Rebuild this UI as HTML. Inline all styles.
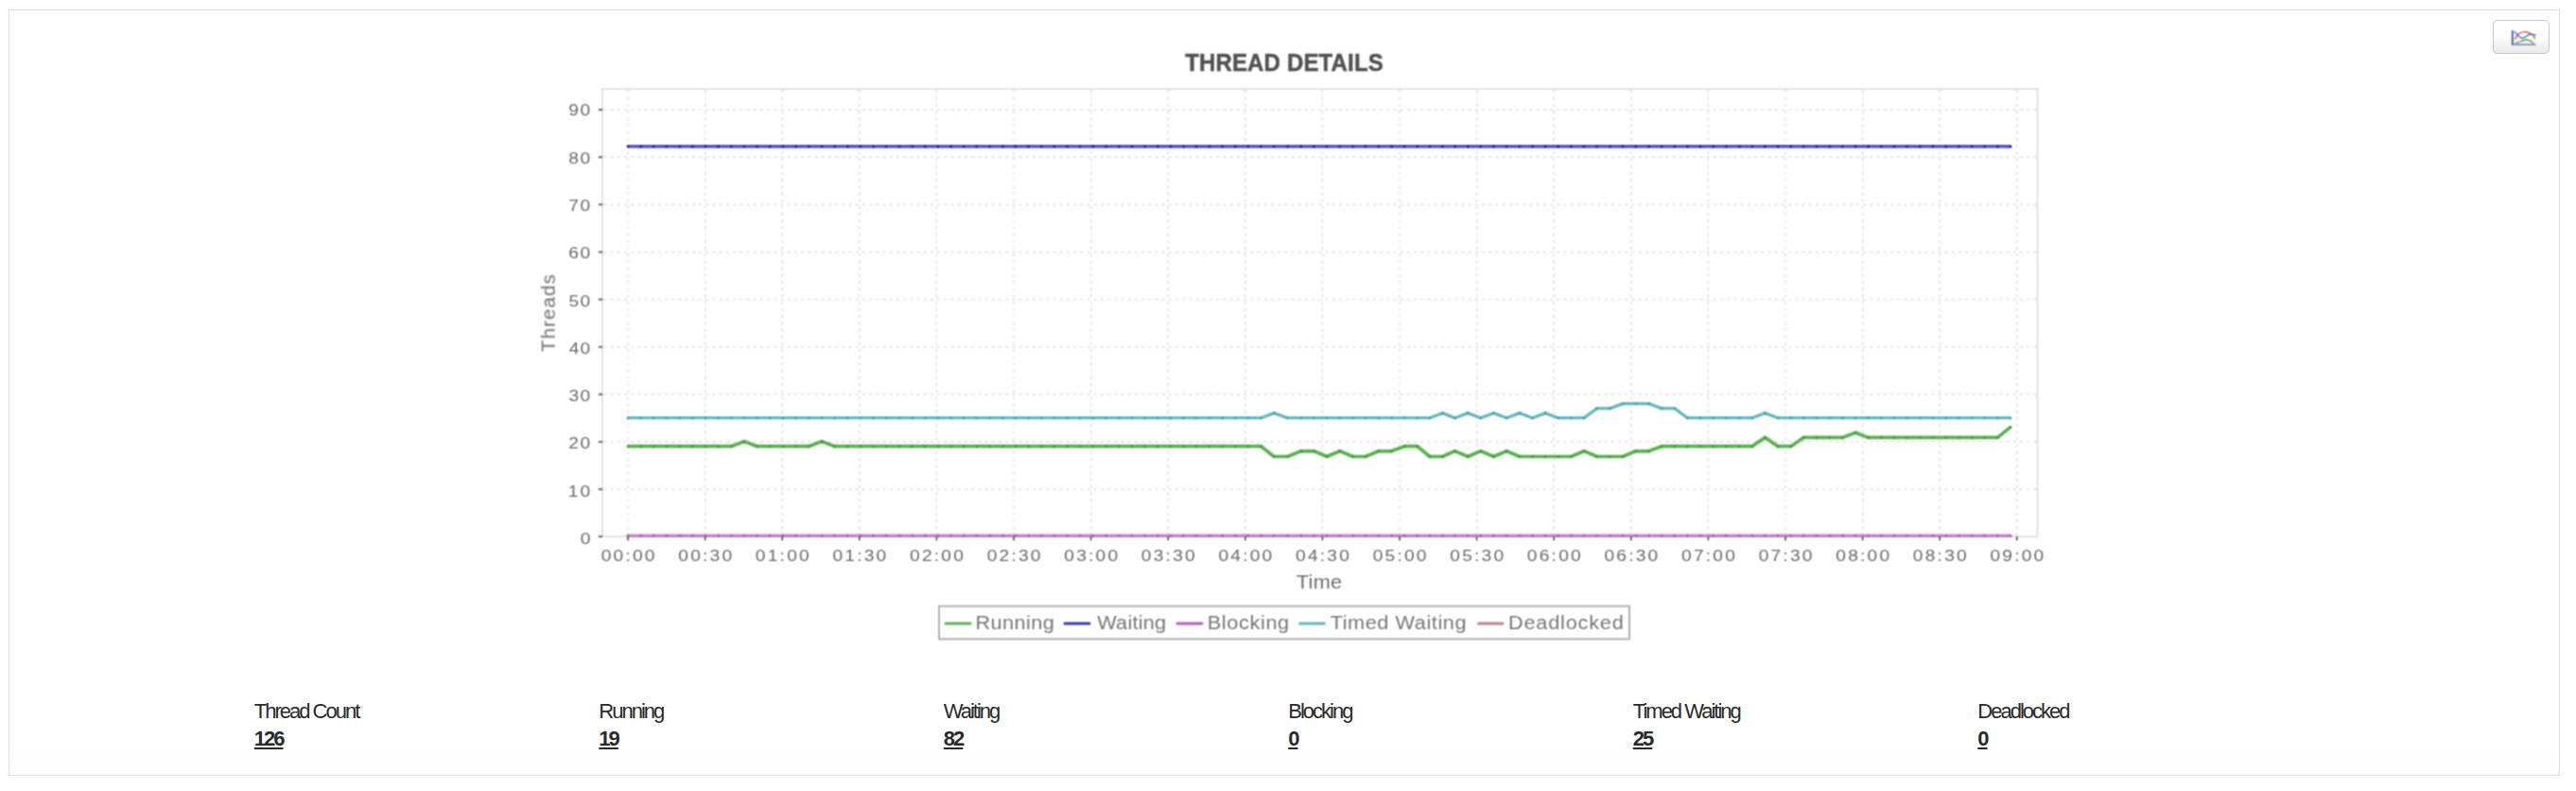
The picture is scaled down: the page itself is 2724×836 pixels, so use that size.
<!DOCTYPE html>
<html><head><meta charset="utf-8"><title>Thread Details</title>
<style>
html,body{margin:0;padding:0;background:#fff;}
body{width:2724px;height:836px;position:relative;overflow:hidden;font-family:"Liberation Sans",sans-serif;}
.box{position:absolute;left:9px;top:10px;width:2696px;height:808px;border:1px solid #e2e2e2;background:linear-gradient(to bottom,#fff 0,#fff 782px,#fcfcfc 808px);}
.chart{position:absolute;left:0;top:0;}
.chart text{font-family:"Liberation Sans",sans-serif;}
.tk{font-size:17px;fill:#676767;}
.lg{font-size:20.5px;fill:#747474;}
.ax{font-size:20.5px;fill:#6a6a6a;letter-spacing:1.6px;}
.ttl{font-size:24px;font-weight:bold;fill:#525252;stroke:#525252;stroke-width:0.45px;letter-spacing:0.16px;}
.btn{position:absolute;left:2636px;top:21px;width:58px;height:34px;border:1px solid #c6c6c6;border-radius:5px;background:linear-gradient(to bottom,#fff 0,#fff 45%,#e9e9e9 100%);}
.btn svg{position:absolute;left:17px;top:9px;}
.st{position:absolute;top:738.3px;color:#2a2a2a;font-size:22px;letter-spacing:-2px;line-height:28px;padding-left:10px;white-space:nowrap;}
.sv{font-weight:bold;text-decoration:underline;text-decoration-thickness:2px;text-underline-offset:2px;margin-top:1px;}
</style></head><body>
<div class="box"></div>
<svg class="chart" width="2724" height="836" viewBox="0 0 2724 836">
<defs><filter id="b" filterUnits="userSpaceOnUse" x="520" y="30" width="1700" height="670" color-interpolation-filters="sRGB"><feConvolveMatrix order="3" kernelMatrix="1 2 1 2 4 2 1 2 1" divisor="16" edgeMode="none" preserveAlpha="false"/></filter></defs>
<g filter="url(#b)">
<rect x="637" y="94" width="1517.5" height="473" fill="none" stroke="#e2e2e2" stroke-width="2"/>
<g stroke="#e9e9e9" stroke-width="2" stroke-dasharray="3.6 3.6" fill="none"><line x1="664.0" y1="95" x2="664.0" y2="567"/><line x1="745.6" y1="95" x2="745.6" y2="567"/><line x1="827.2" y1="95" x2="827.2" y2="567"/><line x1="908.8" y1="95" x2="908.8" y2="567"/><line x1="990.4" y1="95" x2="990.4" y2="567"/><line x1="1072.0" y1="95" x2="1072.0" y2="567"/><line x1="1153.6" y1="95" x2="1153.6" y2="567"/><line x1="1235.2" y1="95" x2="1235.2" y2="567"/><line x1="1316.8" y1="95" x2="1316.8" y2="567"/><line x1="1398.4" y1="95" x2="1398.4" y2="567"/><line x1="1480.0" y1="95" x2="1480.0" y2="567"/><line x1="1561.6" y1="95" x2="1561.6" y2="567"/><line x1="1643.2" y1="95" x2="1643.2" y2="567"/><line x1="1724.8" y1="95" x2="1724.8" y2="567"/><line x1="1806.4" y1="95" x2="1806.4" y2="567"/><line x1="1888.0" y1="95" x2="1888.0" y2="567"/><line x1="1969.6" y1="95" x2="1969.6" y2="567"/><line x1="2051.2" y1="95" x2="2051.2" y2="567"/><line x1="2132.8" y1="95" x2="2132.8" y2="567"/><line x1="638" y1="517.1" x2="2154" y2="517.1"/><line x1="638" y1="467.0" x2="2154" y2="467.0"/><line x1="638" y1="416.8" x2="2154" y2="416.8"/><line x1="638" y1="366.7" x2="2154" y2="366.7"/><line x1="638" y1="316.5" x2="2154" y2="316.5"/><line x1="638" y1="266.4" x2="2154" y2="266.4"/><line x1="638" y1="216.2" x2="2154" y2="216.2"/><line x1="638" y1="166.1" x2="2154" y2="166.1"/><line x1="638" y1="115.9" x2="2154" y2="115.9"/></g>
<polyline points="664.0,566.2 677.7,566.2 691.3,566.2 705.0,566.2 718.7,566.2 732.3,566.2 746.0,566.2 759.6,566.2 773.3,566.2 787.0,566.2 800.6,566.2 814.3,566.2 828.0,566.2 841.6,566.2 855.3,566.2 869.0,566.2 882.6,566.2 896.3,566.2 910.0,566.2 923.6,566.2 937.3,566.2 950.9,566.2 964.6,566.2 978.3,566.2 991.9,566.2 1005.6,566.2 1019.3,566.2 1032.9,566.2 1046.6,566.2 1060.3,566.2 1073.9,566.2 1087.6,566.2 1101.2,566.2 1114.9,566.2 1128.6,566.2 1142.2,566.2 1155.9,566.2 1169.6,566.2 1183.2,566.2 1196.9,566.2 1210.6,566.2 1224.2,566.2 1237.9,566.2 1251.6,566.2 1265.2,566.2 1278.9,566.2 1292.5,566.2 1306.2,566.2 1319.9,566.2 1333.5,566.2 1347.2,566.2 1361.6,566.2 1375.8,566.2 1389.5,566.2 1403.2,566.2 1416.8,566.2 1430.5,566.2 1444.1,566.2 1457.8,566.2 1471.5,566.2 1485.1,566.2 1498.8,566.2 1511.9,566.2 1525.5,566.2 1538.5,566.2 1552.2,566.2 1565.8,566.2 1579.5,566.2 1593.2,566.2 1606.8,566.2 1620.5,566.2 1634.1,566.2 1647.8,566.2 1661.5,566.2 1675.1,566.2 1688.8,566.2 1702.5,566.2 1716.1,566.2 1729.8,566.2 1743.5,566.2 1757.1,566.2 1770.8,566.2 1784.4,566.2 1798.1,566.2 1811.8,566.2 1825.4,566.2 1839.1,566.2 1852.8,566.2 1866.4,566.2 1880.1,566.2 1893.8,566.2 1907.4,566.2 1921.1,566.2 1934.8,566.2 1948.4,566.2 1962.1,566.2 1975.7,566.2 1989.4,566.2 2003.1,566.2 2016.7,566.2 2030.4,566.2 2044.1,566.2 2057.7,566.2 2071.4,566.2 2085.1,566.2 2098.7,566.2 2112.4,566.2 2126.0,566.2" fill="none" stroke="#c584c8" stroke-width="3.6" stroke-linejoin="round"/><g fill="#ad62b2"><circle cx="664.0" cy="566.2" r="1.5"/><circle cx="677.7" cy="566.2" r="1.5"/><circle cx="691.3" cy="566.2" r="1.5"/><circle cx="705.0" cy="566.2" r="1.5"/><circle cx="718.7" cy="566.2" r="1.5"/><circle cx="732.3" cy="566.2" r="1.5"/><circle cx="746.0" cy="566.2" r="1.5"/><circle cx="759.6" cy="566.2" r="1.5"/><circle cx="773.3" cy="566.2" r="1.5"/><circle cx="787.0" cy="566.2" r="1.5"/><circle cx="800.6" cy="566.2" r="1.5"/><circle cx="814.3" cy="566.2" r="1.5"/><circle cx="828.0" cy="566.2" r="1.5"/><circle cx="841.6" cy="566.2" r="1.5"/><circle cx="855.3" cy="566.2" r="1.5"/><circle cx="869.0" cy="566.2" r="1.5"/><circle cx="882.6" cy="566.2" r="1.5"/><circle cx="896.3" cy="566.2" r="1.5"/><circle cx="910.0" cy="566.2" r="1.5"/><circle cx="923.6" cy="566.2" r="1.5"/><circle cx="937.3" cy="566.2" r="1.5"/><circle cx="950.9" cy="566.2" r="1.5"/><circle cx="964.6" cy="566.2" r="1.5"/><circle cx="978.3" cy="566.2" r="1.5"/><circle cx="991.9" cy="566.2" r="1.5"/><circle cx="1005.6" cy="566.2" r="1.5"/><circle cx="1019.3" cy="566.2" r="1.5"/><circle cx="1032.9" cy="566.2" r="1.5"/><circle cx="1046.6" cy="566.2" r="1.5"/><circle cx="1060.3" cy="566.2" r="1.5"/><circle cx="1073.9" cy="566.2" r="1.5"/><circle cx="1087.6" cy="566.2" r="1.5"/><circle cx="1101.2" cy="566.2" r="1.5"/><circle cx="1114.9" cy="566.2" r="1.5"/><circle cx="1128.6" cy="566.2" r="1.5"/><circle cx="1142.2" cy="566.2" r="1.5"/><circle cx="1155.9" cy="566.2" r="1.5"/><circle cx="1169.6" cy="566.2" r="1.5"/><circle cx="1183.2" cy="566.2" r="1.5"/><circle cx="1196.9" cy="566.2" r="1.5"/><circle cx="1210.6" cy="566.2" r="1.5"/><circle cx="1224.2" cy="566.2" r="1.5"/><circle cx="1237.9" cy="566.2" r="1.5"/><circle cx="1251.6" cy="566.2" r="1.5"/><circle cx="1265.2" cy="566.2" r="1.5"/><circle cx="1278.9" cy="566.2" r="1.5"/><circle cx="1292.5" cy="566.2" r="1.5"/><circle cx="1306.2" cy="566.2" r="1.5"/><circle cx="1319.9" cy="566.2" r="1.5"/><circle cx="1333.5" cy="566.2" r="1.5"/><circle cx="1347.2" cy="566.2" r="1.5"/><circle cx="1361.6" cy="566.2" r="1.5"/><circle cx="1375.8" cy="566.2" r="1.5"/><circle cx="1389.5" cy="566.2" r="1.5"/><circle cx="1403.2" cy="566.2" r="1.5"/><circle cx="1416.8" cy="566.2" r="1.5"/><circle cx="1430.5" cy="566.2" r="1.5"/><circle cx="1444.1" cy="566.2" r="1.5"/><circle cx="1457.8" cy="566.2" r="1.5"/><circle cx="1471.5" cy="566.2" r="1.5"/><circle cx="1485.1" cy="566.2" r="1.5"/><circle cx="1498.8" cy="566.2" r="1.5"/><circle cx="1511.9" cy="566.2" r="1.5"/><circle cx="1525.5" cy="566.2" r="1.5"/><circle cx="1538.5" cy="566.2" r="1.5"/><circle cx="1552.2" cy="566.2" r="1.5"/><circle cx="1565.8" cy="566.2" r="1.5"/><circle cx="1579.5" cy="566.2" r="1.5"/><circle cx="1593.2" cy="566.2" r="1.5"/><circle cx="1606.8" cy="566.2" r="1.5"/><circle cx="1620.5" cy="566.2" r="1.5"/><circle cx="1634.1" cy="566.2" r="1.5"/><circle cx="1647.8" cy="566.2" r="1.5"/><circle cx="1661.5" cy="566.2" r="1.5"/><circle cx="1675.1" cy="566.2" r="1.5"/><circle cx="1688.8" cy="566.2" r="1.5"/><circle cx="1702.5" cy="566.2" r="1.5"/><circle cx="1716.1" cy="566.2" r="1.5"/><circle cx="1729.8" cy="566.2" r="1.5"/><circle cx="1743.5" cy="566.2" r="1.5"/><circle cx="1757.1" cy="566.2" r="1.5"/><circle cx="1770.8" cy="566.2" r="1.5"/><circle cx="1784.4" cy="566.2" r="1.5"/><circle cx="1798.1" cy="566.2" r="1.5"/><circle cx="1811.8" cy="566.2" r="1.5"/><circle cx="1825.4" cy="566.2" r="1.5"/><circle cx="1839.1" cy="566.2" r="1.5"/><circle cx="1852.8" cy="566.2" r="1.5"/><circle cx="1866.4" cy="566.2" r="1.5"/><circle cx="1880.1" cy="566.2" r="1.5"/><circle cx="1893.8" cy="566.2" r="1.5"/><circle cx="1907.4" cy="566.2" r="1.5"/><circle cx="1921.1" cy="566.2" r="1.5"/><circle cx="1934.8" cy="566.2" r="1.5"/><circle cx="1948.4" cy="566.2" r="1.5"/><circle cx="1962.1" cy="566.2" r="1.5"/><circle cx="1975.7" cy="566.2" r="1.5"/><circle cx="1989.4" cy="566.2" r="1.5"/><circle cx="2003.1" cy="566.2" r="1.5"/><circle cx="2016.7" cy="566.2" r="1.5"/><circle cx="2030.4" cy="566.2" r="1.5"/><circle cx="2044.1" cy="566.2" r="1.5"/><circle cx="2057.7" cy="566.2" r="1.5"/><circle cx="2071.4" cy="566.2" r="1.5"/><circle cx="2085.1" cy="566.2" r="1.5"/><circle cx="2098.7" cy="566.2" r="1.5"/><circle cx="2112.4" cy="566.2" r="1.5"/><circle cx="2126.0" cy="566.2" r="1.5"/></g><polyline points="664.0,471.7 677.7,471.7 691.3,471.7 705.0,471.7 718.7,471.7 732.3,471.7 746.0,471.7 759.6,471.7 773.3,471.7 787.0,466.5 800.6,471.7 814.3,471.7 828.0,471.7 841.6,471.7 855.3,471.7 869.0,466.5 882.6,471.7 896.3,471.7 910.0,471.7 923.6,471.7 937.3,471.7 950.9,471.7 964.6,471.7 978.3,471.7 991.9,471.7 1005.6,471.7 1019.3,471.7 1032.9,471.7 1046.6,471.7 1060.3,471.7 1073.9,471.7 1087.6,471.7 1101.2,471.7 1114.9,471.7 1128.6,471.7 1142.2,471.7 1155.9,471.7 1169.6,471.7 1183.2,471.7 1196.9,471.7 1210.6,471.7 1224.2,471.7 1237.9,471.7 1251.6,471.7 1265.2,471.7 1278.9,471.7 1292.5,471.7 1306.2,471.7 1319.9,471.7 1333.5,471.7 1347.2,482.5 1361.6,482.5 1375.8,476.8 1389.5,476.8 1403.2,482.5 1416.8,476.8 1430.5,482.5 1444.1,482.5 1457.8,476.8 1471.5,476.8 1485.1,471.7 1498.8,471.7 1511.9,482.5 1525.5,482.5 1538.5,476.8 1552.2,482.5 1565.8,476.8 1579.5,482.5 1593.2,476.8 1606.8,482.5 1620.5,482.5 1634.1,482.5 1647.8,482.5 1661.5,482.5 1675.1,476.8 1688.8,482.5 1702.5,482.5 1716.1,482.5 1729.8,476.8 1743.5,476.8 1757.1,471.7 1770.8,471.7 1784.4,471.7 1798.1,471.7 1811.8,471.7 1825.4,471.7 1839.1,471.7 1852.8,471.7 1866.4,462.4 1880.1,471.7 1893.8,471.7 1907.4,462.4 1921.1,462.4 1934.8,462.4 1948.4,462.4 1962.1,457.2 1975.7,462.4 1989.4,462.4 2003.1,462.4 2016.7,462.4 2030.4,462.4 2044.1,462.4 2057.7,462.4 2071.4,462.4 2085.1,462.4 2098.7,462.4 2112.4,462.4 2126.0,451.4" fill="none" stroke="#5ab450" stroke-width="3.7" stroke-linejoin="round"/><g fill="#479c3c"><circle cx="664.0" cy="471.7" r="1.5"/><circle cx="677.7" cy="471.7" r="1.5"/><circle cx="691.3" cy="471.7" r="1.5"/><circle cx="705.0" cy="471.7" r="1.5"/><circle cx="718.7" cy="471.7" r="1.5"/><circle cx="732.3" cy="471.7" r="1.5"/><circle cx="746.0" cy="471.7" r="1.5"/><circle cx="759.6" cy="471.7" r="1.5"/><circle cx="773.3" cy="471.7" r="1.5"/><circle cx="787.0" cy="466.5" r="1.5"/><circle cx="800.6" cy="471.7" r="1.5"/><circle cx="814.3" cy="471.7" r="1.5"/><circle cx="828.0" cy="471.7" r="1.5"/><circle cx="841.6" cy="471.7" r="1.5"/><circle cx="855.3" cy="471.7" r="1.5"/><circle cx="869.0" cy="466.5" r="1.5"/><circle cx="882.6" cy="471.7" r="1.5"/><circle cx="896.3" cy="471.7" r="1.5"/><circle cx="910.0" cy="471.7" r="1.5"/><circle cx="923.6" cy="471.7" r="1.5"/><circle cx="937.3" cy="471.7" r="1.5"/><circle cx="950.9" cy="471.7" r="1.5"/><circle cx="964.6" cy="471.7" r="1.5"/><circle cx="978.3" cy="471.7" r="1.5"/><circle cx="991.9" cy="471.7" r="1.5"/><circle cx="1005.6" cy="471.7" r="1.5"/><circle cx="1019.3" cy="471.7" r="1.5"/><circle cx="1032.9" cy="471.7" r="1.5"/><circle cx="1046.6" cy="471.7" r="1.5"/><circle cx="1060.3" cy="471.7" r="1.5"/><circle cx="1073.9" cy="471.7" r="1.5"/><circle cx="1087.6" cy="471.7" r="1.5"/><circle cx="1101.2" cy="471.7" r="1.5"/><circle cx="1114.9" cy="471.7" r="1.5"/><circle cx="1128.6" cy="471.7" r="1.5"/><circle cx="1142.2" cy="471.7" r="1.5"/><circle cx="1155.9" cy="471.7" r="1.5"/><circle cx="1169.6" cy="471.7" r="1.5"/><circle cx="1183.2" cy="471.7" r="1.5"/><circle cx="1196.9" cy="471.7" r="1.5"/><circle cx="1210.6" cy="471.7" r="1.5"/><circle cx="1224.2" cy="471.7" r="1.5"/><circle cx="1237.9" cy="471.7" r="1.5"/><circle cx="1251.6" cy="471.7" r="1.5"/><circle cx="1265.2" cy="471.7" r="1.5"/><circle cx="1278.9" cy="471.7" r="1.5"/><circle cx="1292.5" cy="471.7" r="1.5"/><circle cx="1306.2" cy="471.7" r="1.5"/><circle cx="1319.9" cy="471.7" r="1.5"/><circle cx="1333.5" cy="471.7" r="1.5"/><circle cx="1347.2" cy="482.5" r="1.5"/><circle cx="1361.6" cy="482.5" r="1.5"/><circle cx="1375.8" cy="476.8" r="1.5"/><circle cx="1389.5" cy="476.8" r="1.5"/><circle cx="1403.2" cy="482.5" r="1.5"/><circle cx="1416.8" cy="476.8" r="1.5"/><circle cx="1430.5" cy="482.5" r="1.5"/><circle cx="1444.1" cy="482.5" r="1.5"/><circle cx="1457.8" cy="476.8" r="1.5"/><circle cx="1471.5" cy="476.8" r="1.5"/><circle cx="1485.1" cy="471.7" r="1.5"/><circle cx="1498.8" cy="471.7" r="1.5"/><circle cx="1511.9" cy="482.5" r="1.5"/><circle cx="1525.5" cy="482.5" r="1.5"/><circle cx="1538.5" cy="476.8" r="1.5"/><circle cx="1552.2" cy="482.5" r="1.5"/><circle cx="1565.8" cy="476.8" r="1.5"/><circle cx="1579.5" cy="482.5" r="1.5"/><circle cx="1593.2" cy="476.8" r="1.5"/><circle cx="1606.8" cy="482.5" r="1.5"/><circle cx="1620.5" cy="482.5" r="1.5"/><circle cx="1634.1" cy="482.5" r="1.5"/><circle cx="1647.8" cy="482.5" r="1.5"/><circle cx="1661.5" cy="482.5" r="1.5"/><circle cx="1675.1" cy="476.8" r="1.5"/><circle cx="1688.8" cy="482.5" r="1.5"/><circle cx="1702.5" cy="482.5" r="1.5"/><circle cx="1716.1" cy="482.5" r="1.5"/><circle cx="1729.8" cy="476.8" r="1.5"/><circle cx="1743.5" cy="476.8" r="1.5"/><circle cx="1757.1" cy="471.7" r="1.5"/><circle cx="1770.8" cy="471.7" r="1.5"/><circle cx="1784.4" cy="471.7" r="1.5"/><circle cx="1798.1" cy="471.7" r="1.5"/><circle cx="1811.8" cy="471.7" r="1.5"/><circle cx="1825.4" cy="471.7" r="1.5"/><circle cx="1839.1" cy="471.7" r="1.5"/><circle cx="1852.8" cy="471.7" r="1.5"/><circle cx="1866.4" cy="462.4" r="1.5"/><circle cx="1880.1" cy="471.7" r="1.5"/><circle cx="1893.8" cy="471.7" r="1.5"/><circle cx="1907.4" cy="462.4" r="1.5"/><circle cx="1921.1" cy="462.4" r="1.5"/><circle cx="1934.8" cy="462.4" r="1.5"/><circle cx="1948.4" cy="462.4" r="1.5"/><circle cx="1962.1" cy="457.2" r="1.5"/><circle cx="1975.7" cy="462.4" r="1.5"/><circle cx="1989.4" cy="462.4" r="1.5"/><circle cx="2003.1" cy="462.4" r="1.5"/><circle cx="2016.7" cy="462.4" r="1.5"/><circle cx="2030.4" cy="462.4" r="1.5"/><circle cx="2044.1" cy="462.4" r="1.5"/><circle cx="2057.7" cy="462.4" r="1.5"/><circle cx="2071.4" cy="462.4" r="1.5"/><circle cx="2085.1" cy="462.4" r="1.5"/><circle cx="2098.7" cy="462.4" r="1.5"/><circle cx="2112.4" cy="462.4" r="1.5"/><circle cx="2126.0" cy="451.4" r="1.5"/></g><polyline points="664.0,441.7 677.7,441.7 691.3,441.7 705.0,441.7 718.7,441.7 732.3,441.7 746.0,441.7 759.6,441.7 773.3,441.7 787.0,441.7 800.6,441.7 814.3,441.7 828.0,441.7 841.6,441.7 855.3,441.7 869.0,441.7 882.6,441.7 896.3,441.7 910.0,441.7 923.6,441.7 937.3,441.7 950.9,441.7 964.6,441.7 978.3,441.7 991.9,441.7 1005.6,441.7 1019.3,441.7 1032.9,441.7 1046.6,441.7 1060.3,441.7 1073.9,441.7 1087.6,441.7 1101.2,441.7 1114.9,441.7 1128.6,441.7 1142.2,441.7 1155.9,441.7 1169.6,441.7 1183.2,441.7 1196.9,441.7 1210.6,441.7 1224.2,441.7 1237.9,441.7 1251.6,441.7 1265.2,441.7 1278.9,441.7 1292.5,441.7 1306.2,441.7 1319.9,441.7 1333.5,441.7 1347.2,436.6 1361.6,441.7 1375.8,441.7 1389.5,441.7 1403.2,441.7 1416.8,441.7 1430.5,441.7 1444.1,441.7 1457.8,441.7 1471.5,441.7 1485.1,441.7 1498.8,441.7 1511.9,441.7 1525.5,436.6 1538.5,441.7 1552.2,436.6 1565.8,441.7 1579.5,436.6 1593.2,441.7 1606.8,436.6 1620.5,441.7 1634.1,436.6 1647.8,441.7 1661.5,441.7 1675.1,441.7 1688.8,431.6 1702.5,431.6 1716.1,426.6 1729.8,426.6 1743.5,426.6 1757.1,431.6 1770.8,431.6 1784.4,441.7 1798.1,441.7 1811.8,441.7 1825.4,441.7 1839.1,441.7 1852.8,441.7 1866.4,436.6 1880.1,441.7 1893.8,441.7 1907.4,441.7 1921.1,441.7 1934.8,441.7 1948.4,441.7 1962.1,441.7 1975.7,441.7 1989.4,441.7 2003.1,441.7 2016.7,441.7 2030.4,441.7 2044.1,441.7 2057.7,441.7 2071.4,441.7 2085.1,441.7 2098.7,441.7 2112.4,441.7 2126.0,441.7" fill="none" stroke="#68b8c0" stroke-width="3.3" stroke-linejoin="round"/><g fill="#4fa0a8"><circle cx="664.0" cy="441.7" r="1.5"/><circle cx="677.7" cy="441.7" r="1.5"/><circle cx="691.3" cy="441.7" r="1.5"/><circle cx="705.0" cy="441.7" r="1.5"/><circle cx="718.7" cy="441.7" r="1.5"/><circle cx="732.3" cy="441.7" r="1.5"/><circle cx="746.0" cy="441.7" r="1.5"/><circle cx="759.6" cy="441.7" r="1.5"/><circle cx="773.3" cy="441.7" r="1.5"/><circle cx="787.0" cy="441.7" r="1.5"/><circle cx="800.6" cy="441.7" r="1.5"/><circle cx="814.3" cy="441.7" r="1.5"/><circle cx="828.0" cy="441.7" r="1.5"/><circle cx="841.6" cy="441.7" r="1.5"/><circle cx="855.3" cy="441.7" r="1.5"/><circle cx="869.0" cy="441.7" r="1.5"/><circle cx="882.6" cy="441.7" r="1.5"/><circle cx="896.3" cy="441.7" r="1.5"/><circle cx="910.0" cy="441.7" r="1.5"/><circle cx="923.6" cy="441.7" r="1.5"/><circle cx="937.3" cy="441.7" r="1.5"/><circle cx="950.9" cy="441.7" r="1.5"/><circle cx="964.6" cy="441.7" r="1.5"/><circle cx="978.3" cy="441.7" r="1.5"/><circle cx="991.9" cy="441.7" r="1.5"/><circle cx="1005.6" cy="441.7" r="1.5"/><circle cx="1019.3" cy="441.7" r="1.5"/><circle cx="1032.9" cy="441.7" r="1.5"/><circle cx="1046.6" cy="441.7" r="1.5"/><circle cx="1060.3" cy="441.7" r="1.5"/><circle cx="1073.9" cy="441.7" r="1.5"/><circle cx="1087.6" cy="441.7" r="1.5"/><circle cx="1101.2" cy="441.7" r="1.5"/><circle cx="1114.9" cy="441.7" r="1.5"/><circle cx="1128.6" cy="441.7" r="1.5"/><circle cx="1142.2" cy="441.7" r="1.5"/><circle cx="1155.9" cy="441.7" r="1.5"/><circle cx="1169.6" cy="441.7" r="1.5"/><circle cx="1183.2" cy="441.7" r="1.5"/><circle cx="1196.9" cy="441.7" r="1.5"/><circle cx="1210.6" cy="441.7" r="1.5"/><circle cx="1224.2" cy="441.7" r="1.5"/><circle cx="1237.9" cy="441.7" r="1.5"/><circle cx="1251.6" cy="441.7" r="1.5"/><circle cx="1265.2" cy="441.7" r="1.5"/><circle cx="1278.9" cy="441.7" r="1.5"/><circle cx="1292.5" cy="441.7" r="1.5"/><circle cx="1306.2" cy="441.7" r="1.5"/><circle cx="1319.9" cy="441.7" r="1.5"/><circle cx="1333.5" cy="441.7" r="1.5"/><circle cx="1347.2" cy="436.6" r="1.5"/><circle cx="1361.6" cy="441.7" r="1.5"/><circle cx="1375.8" cy="441.7" r="1.5"/><circle cx="1389.5" cy="441.7" r="1.5"/><circle cx="1403.2" cy="441.7" r="1.5"/><circle cx="1416.8" cy="441.7" r="1.5"/><circle cx="1430.5" cy="441.7" r="1.5"/><circle cx="1444.1" cy="441.7" r="1.5"/><circle cx="1457.8" cy="441.7" r="1.5"/><circle cx="1471.5" cy="441.7" r="1.5"/><circle cx="1485.1" cy="441.7" r="1.5"/><circle cx="1498.8" cy="441.7" r="1.5"/><circle cx="1511.9" cy="441.7" r="1.5"/><circle cx="1525.5" cy="436.6" r="1.5"/><circle cx="1538.5" cy="441.7" r="1.5"/><circle cx="1552.2" cy="436.6" r="1.5"/><circle cx="1565.8" cy="441.7" r="1.5"/><circle cx="1579.5" cy="436.6" r="1.5"/><circle cx="1593.2" cy="441.7" r="1.5"/><circle cx="1606.8" cy="436.6" r="1.5"/><circle cx="1620.5" cy="441.7" r="1.5"/><circle cx="1634.1" cy="436.6" r="1.5"/><circle cx="1647.8" cy="441.7" r="1.5"/><circle cx="1661.5" cy="441.7" r="1.5"/><circle cx="1675.1" cy="441.7" r="1.5"/><circle cx="1688.8" cy="431.6" r="1.5"/><circle cx="1702.5" cy="431.6" r="1.5"/><circle cx="1716.1" cy="426.6" r="1.5"/><circle cx="1729.8" cy="426.6" r="1.5"/><circle cx="1743.5" cy="426.6" r="1.5"/><circle cx="1757.1" cy="431.6" r="1.5"/><circle cx="1770.8" cy="431.6" r="1.5"/><circle cx="1784.4" cy="441.7" r="1.5"/><circle cx="1798.1" cy="441.7" r="1.5"/><circle cx="1811.8" cy="441.7" r="1.5"/><circle cx="1825.4" cy="441.7" r="1.5"/><circle cx="1839.1" cy="441.7" r="1.5"/><circle cx="1852.8" cy="441.7" r="1.5"/><circle cx="1866.4" cy="436.6" r="1.5"/><circle cx="1880.1" cy="441.7" r="1.5"/><circle cx="1893.8" cy="441.7" r="1.5"/><circle cx="1907.4" cy="441.7" r="1.5"/><circle cx="1921.1" cy="441.7" r="1.5"/><circle cx="1934.8" cy="441.7" r="1.5"/><circle cx="1948.4" cy="441.7" r="1.5"/><circle cx="1962.1" cy="441.7" r="1.5"/><circle cx="1975.7" cy="441.7" r="1.5"/><circle cx="1989.4" cy="441.7" r="1.5"/><circle cx="2003.1" cy="441.7" r="1.5"/><circle cx="2016.7" cy="441.7" r="1.5"/><circle cx="2030.4" cy="441.7" r="1.5"/><circle cx="2044.1" cy="441.7" r="1.5"/><circle cx="2057.7" cy="441.7" r="1.5"/><circle cx="2071.4" cy="441.7" r="1.5"/><circle cx="2085.1" cy="441.7" r="1.5"/><circle cx="2098.7" cy="441.7" r="1.5"/><circle cx="2112.4" cy="441.7" r="1.5"/><circle cx="2126.0" cy="441.7" r="1.5"/></g><polyline points="664.0,154.8 677.7,154.8 691.3,154.8 705.0,154.8 718.7,154.8 732.3,154.8 746.0,154.8 759.6,154.8 773.3,154.8 787.0,154.8 800.6,154.8 814.3,154.8 828.0,154.8 841.6,154.8 855.3,154.8 869.0,154.8 882.6,154.8 896.3,154.8 910.0,154.8 923.6,154.8 937.3,154.8 950.9,154.8 964.6,154.8 978.3,154.8 991.9,154.8 1005.6,154.8 1019.3,154.8 1032.9,154.8 1046.6,154.8 1060.3,154.8 1073.9,154.8 1087.6,154.8 1101.2,154.8 1114.9,154.8 1128.6,154.8 1142.2,154.8 1155.9,154.8 1169.6,154.8 1183.2,154.8 1196.9,154.8 1210.6,154.8 1224.2,154.8 1237.9,154.8 1251.6,154.8 1265.2,154.8 1278.9,154.8 1292.5,154.8 1306.2,154.8 1319.9,154.8 1333.5,154.8 1347.2,154.8 1361.6,154.8 1375.8,154.8 1389.5,154.8 1403.2,154.8 1416.8,154.8 1430.5,154.8 1444.1,154.8 1457.8,154.8 1471.5,154.8 1485.1,154.8 1498.8,154.8 1511.9,154.8 1525.5,154.8 1538.5,154.8 1552.2,154.8 1565.8,154.8 1579.5,154.8 1593.2,154.8 1606.8,154.8 1620.5,154.8 1634.1,154.8 1647.8,154.8 1661.5,154.8 1675.1,154.8 1688.8,154.8 1702.5,154.8 1716.1,154.8 1729.8,154.8 1743.5,154.8 1757.1,154.8 1770.8,154.8 1784.4,154.8 1798.1,154.8 1811.8,154.8 1825.4,154.8 1839.1,154.8 1852.8,154.8 1866.4,154.8 1880.1,154.8 1893.8,154.8 1907.4,154.8 1921.1,154.8 1934.8,154.8 1948.4,154.8 1962.1,154.8 1975.7,154.8 1989.4,154.8 2003.1,154.8 2016.7,154.8 2030.4,154.8 2044.1,154.8 2057.7,154.8 2071.4,154.8 2085.1,154.8 2098.7,154.8 2112.4,154.8 2126.0,154.8" fill="none" stroke="#5858b8" stroke-width="3.4" stroke-linejoin="round"/><g fill="#2626a0"><circle cx="664.0" cy="154.8" r="1.5"/><circle cx="677.7" cy="154.8" r="1.5"/><circle cx="691.3" cy="154.8" r="1.5"/><circle cx="705.0" cy="154.8" r="1.5"/><circle cx="718.7" cy="154.8" r="1.5"/><circle cx="732.3" cy="154.8" r="1.5"/><circle cx="746.0" cy="154.8" r="1.5"/><circle cx="759.6" cy="154.8" r="1.5"/><circle cx="773.3" cy="154.8" r="1.5"/><circle cx="787.0" cy="154.8" r="1.5"/><circle cx="800.6" cy="154.8" r="1.5"/><circle cx="814.3" cy="154.8" r="1.5"/><circle cx="828.0" cy="154.8" r="1.5"/><circle cx="841.6" cy="154.8" r="1.5"/><circle cx="855.3" cy="154.8" r="1.5"/><circle cx="869.0" cy="154.8" r="1.5"/><circle cx="882.6" cy="154.8" r="1.5"/><circle cx="896.3" cy="154.8" r="1.5"/><circle cx="910.0" cy="154.8" r="1.5"/><circle cx="923.6" cy="154.8" r="1.5"/><circle cx="937.3" cy="154.8" r="1.5"/><circle cx="950.9" cy="154.8" r="1.5"/><circle cx="964.6" cy="154.8" r="1.5"/><circle cx="978.3" cy="154.8" r="1.5"/><circle cx="991.9" cy="154.8" r="1.5"/><circle cx="1005.6" cy="154.8" r="1.5"/><circle cx="1019.3" cy="154.8" r="1.5"/><circle cx="1032.9" cy="154.8" r="1.5"/><circle cx="1046.6" cy="154.8" r="1.5"/><circle cx="1060.3" cy="154.8" r="1.5"/><circle cx="1073.9" cy="154.8" r="1.5"/><circle cx="1087.6" cy="154.8" r="1.5"/><circle cx="1101.2" cy="154.8" r="1.5"/><circle cx="1114.9" cy="154.8" r="1.5"/><circle cx="1128.6" cy="154.8" r="1.5"/><circle cx="1142.2" cy="154.8" r="1.5"/><circle cx="1155.9" cy="154.8" r="1.5"/><circle cx="1169.6" cy="154.8" r="1.5"/><circle cx="1183.2" cy="154.8" r="1.5"/><circle cx="1196.9" cy="154.8" r="1.5"/><circle cx="1210.6" cy="154.8" r="1.5"/><circle cx="1224.2" cy="154.8" r="1.5"/><circle cx="1237.9" cy="154.8" r="1.5"/><circle cx="1251.6" cy="154.8" r="1.5"/><circle cx="1265.2" cy="154.8" r="1.5"/><circle cx="1278.9" cy="154.8" r="1.5"/><circle cx="1292.5" cy="154.8" r="1.5"/><circle cx="1306.2" cy="154.8" r="1.5"/><circle cx="1319.9" cy="154.8" r="1.5"/><circle cx="1333.5" cy="154.8" r="1.5"/><circle cx="1347.2" cy="154.8" r="1.5"/><circle cx="1361.6" cy="154.8" r="1.5"/><circle cx="1375.8" cy="154.8" r="1.5"/><circle cx="1389.5" cy="154.8" r="1.5"/><circle cx="1403.2" cy="154.8" r="1.5"/><circle cx="1416.8" cy="154.8" r="1.5"/><circle cx="1430.5" cy="154.8" r="1.5"/><circle cx="1444.1" cy="154.8" r="1.5"/><circle cx="1457.8" cy="154.8" r="1.5"/><circle cx="1471.5" cy="154.8" r="1.5"/><circle cx="1485.1" cy="154.8" r="1.5"/><circle cx="1498.8" cy="154.8" r="1.5"/><circle cx="1511.9" cy="154.8" r="1.5"/><circle cx="1525.5" cy="154.8" r="1.5"/><circle cx="1538.5" cy="154.8" r="1.5"/><circle cx="1552.2" cy="154.8" r="1.5"/><circle cx="1565.8" cy="154.8" r="1.5"/><circle cx="1579.5" cy="154.8" r="1.5"/><circle cx="1593.2" cy="154.8" r="1.5"/><circle cx="1606.8" cy="154.8" r="1.5"/><circle cx="1620.5" cy="154.8" r="1.5"/><circle cx="1634.1" cy="154.8" r="1.5"/><circle cx="1647.8" cy="154.8" r="1.5"/><circle cx="1661.5" cy="154.8" r="1.5"/><circle cx="1675.1" cy="154.8" r="1.5"/><circle cx="1688.8" cy="154.8" r="1.5"/><circle cx="1702.5" cy="154.8" r="1.5"/><circle cx="1716.1" cy="154.8" r="1.5"/><circle cx="1729.8" cy="154.8" r="1.5"/><circle cx="1743.5" cy="154.8" r="1.5"/><circle cx="1757.1" cy="154.8" r="1.5"/><circle cx="1770.8" cy="154.8" r="1.5"/><circle cx="1784.4" cy="154.8" r="1.5"/><circle cx="1798.1" cy="154.8" r="1.5"/><circle cx="1811.8" cy="154.8" r="1.5"/><circle cx="1825.4" cy="154.8" r="1.5"/><circle cx="1839.1" cy="154.8" r="1.5"/><circle cx="1852.8" cy="154.8" r="1.5"/><circle cx="1866.4" cy="154.8" r="1.5"/><circle cx="1880.1" cy="154.8" r="1.5"/><circle cx="1893.8" cy="154.8" r="1.5"/><circle cx="1907.4" cy="154.8" r="1.5"/><circle cx="1921.1" cy="154.8" r="1.5"/><circle cx="1934.8" cy="154.8" r="1.5"/><circle cx="1948.4" cy="154.8" r="1.5"/><circle cx="1962.1" cy="154.8" r="1.5"/><circle cx="1975.7" cy="154.8" r="1.5"/><circle cx="1989.4" cy="154.8" r="1.5"/><circle cx="2003.1" cy="154.8" r="1.5"/><circle cx="2016.7" cy="154.8" r="1.5"/><circle cx="2030.4" cy="154.8" r="1.5"/><circle cx="2044.1" cy="154.8" r="1.5"/><circle cx="2057.7" cy="154.8" r="1.5"/><circle cx="2071.4" cy="154.8" r="1.5"/><circle cx="2085.1" cy="154.8" r="1.5"/><circle cx="2098.7" cy="154.8" r="1.5"/><circle cx="2112.4" cy="154.8" r="1.5"/><circle cx="2126.0" cy="154.8" r="1.5"/></g>
<g stroke="#6a6a6a" stroke-width="2" fill="none"><line x1="664.0" y1="567" x2="664.0" y2="571.2"/><line x1="745.6" y1="567" x2="745.6" y2="571.2"/><line x1="827.2" y1="567" x2="827.2" y2="571.2"/><line x1="908.8" y1="567" x2="908.8" y2="571.2"/><line x1="990.4" y1="567" x2="990.4" y2="571.2"/><line x1="1072.0" y1="567" x2="1072.0" y2="571.2"/><line x1="1153.6" y1="567" x2="1153.6" y2="571.2"/><line x1="1235.2" y1="567" x2="1235.2" y2="571.2"/><line x1="1316.8" y1="567" x2="1316.8" y2="571.2"/><line x1="1398.4" y1="567" x2="1398.4" y2="571.2"/><line x1="1480.0" y1="567" x2="1480.0" y2="571.2"/><line x1="1561.6" y1="567" x2="1561.6" y2="571.2"/><line x1="1643.2" y1="567" x2="1643.2" y2="571.2"/><line x1="1724.8" y1="567" x2="1724.8" y2="571.2"/><line x1="1806.4" y1="567" x2="1806.4" y2="571.2"/><line x1="1888.0" y1="567" x2="1888.0" y2="571.2"/><line x1="1969.6" y1="567" x2="1969.6" y2="571.2"/><line x1="2051.2" y1="567" x2="2051.2" y2="571.2"/><line x1="2132.8" y1="567" x2="2132.8" y2="571.2"/><line x1="632.8" y1="567.0" x2="637" y2="567.0"/><line x1="632.8" y1="517.1" x2="637" y2="517.1"/><line x1="632.8" y1="467.0" x2="637" y2="467.0"/><line x1="632.8" y1="416.8" x2="637" y2="416.8"/><line x1="632.8" y1="366.7" x2="637" y2="366.7"/><line x1="632.8" y1="316.5" x2="637" y2="316.5"/><line x1="632.8" y1="266.4" x2="637" y2="266.4"/><line x1="632.8" y1="216.2" x2="637" y2="216.2"/><line x1="632.8" y1="166.1" x2="637" y2="166.1"/><line x1="632.8" y1="115.9" x2="637" y2="115.9"/></g>
<g><text class="tk" transform="translate(635.65,592.80) scale(1.130,1)" style="letter-spacing:1.95px">00:00</text><text class="tk" transform="translate(717.25,592.80) scale(1.130,1)" style="letter-spacing:1.95px">00:30</text><text class="tk" transform="translate(798.85,592.80) scale(1.130,1)" style="letter-spacing:1.95px">01:00</text><text class="tk" transform="translate(880.45,592.80) scale(1.130,1)" style="letter-spacing:1.95px">01:30</text><text class="tk" transform="translate(962.05,592.80) scale(1.130,1)" style="letter-spacing:1.95px">02:00</text><text class="tk" transform="translate(1043.65,592.80) scale(1.130,1)" style="letter-spacing:1.95px">02:30</text><text class="tk" transform="translate(1125.25,592.80) scale(1.130,1)" style="letter-spacing:1.95px">03:00</text><text class="tk" transform="translate(1206.85,592.80) scale(1.130,1)" style="letter-spacing:1.95px">03:30</text><text class="tk" transform="translate(1288.45,592.80) scale(1.130,1)" style="letter-spacing:1.95px">04:00</text><text class="tk" transform="translate(1370.05,592.80) scale(1.130,1)" style="letter-spacing:1.95px">04:30</text><text class="tk" transform="translate(1451.65,592.80) scale(1.130,1)" style="letter-spacing:1.95px">05:00</text><text class="tk" transform="translate(1533.25,592.80) scale(1.130,1)" style="letter-spacing:1.95px">05:30</text><text class="tk" transform="translate(1614.85,592.80) scale(1.130,1)" style="letter-spacing:1.95px">06:00</text><text class="tk" transform="translate(1696.45,592.80) scale(1.130,1)" style="letter-spacing:1.95px">06:30</text><text class="tk" transform="translate(1778.05,592.80) scale(1.130,1)" style="letter-spacing:1.95px">07:00</text><text class="tk" transform="translate(1859.65,592.80) scale(1.130,1)" style="letter-spacing:1.95px">07:30</text><text class="tk" transform="translate(1941.25,592.80) scale(1.130,1)" style="letter-spacing:1.95px">08:00</text><text class="tk" transform="translate(2022.85,592.80) scale(1.130,1)" style="letter-spacing:1.95px">08:30</text><text class="tk" transform="translate(2104.45,592.80) scale(1.130,1)" style="letter-spacing:1.95px">09:00</text></g>
<g><text class="tk" transform="translate(613.85,575.00) scale(1.13,1)">0</text><text class="tk" transform="translate(600.74,524.71) scale(1.130,1)" style="letter-spacing:1.81px">10</text><text class="tk" transform="translate(601.23,474.41) scale(1.130,1)" style="letter-spacing:1.37px">20</text><text class="tk" transform="translate(601.47,424.12) scale(1.130,1)" style="letter-spacing:1.16px">30</text><text class="tk" transform="translate(601.76,373.82) scale(1.130,1)" style="letter-spacing:0.91px">40</text><text class="tk" transform="translate(601.43,323.53) scale(1.130,1)" style="letter-spacing:1.20px">50</text><text class="tk" transform="translate(601.22,273.23) scale(1.130,1)" style="letter-spacing:1.38px">60</text><text class="tk" transform="translate(601.22,222.94) scale(1.130,1)" style="letter-spacing:1.39px">70</text><text class="tk" transform="translate(601.37,172.64) scale(1.130,1)" style="letter-spacing:1.25px">80</text><text class="tk" transform="translate(601.30,122.35) scale(1.130,1)" style="letter-spacing:1.31px">90</text></g>
<rect x="993" y="640.6" width="730" height="34.8" fill="#fff" stroke="#b0b0b0" stroke-width="2"/><line x1="1000.0" y1="659" x2="1026.0" y2="659" stroke="#5ab450" stroke-width="3" stroke-linecap="round"/><text class="lg" transform="translate(1031.42,665.20) scale(1.060,1)" style="letter-spacing:0.38px">Running</text><line x1="1126.0" y1="659" x2="1152.0" y2="659" stroke="#3c3cb0" stroke-width="3" stroke-linecap="round"/><text class="lg" transform="translate(1160.20,665.20) scale(1.060,1)" style="letter-spacing:0.21px">Waiting</text><line x1="1245.0" y1="659" x2="1271.0" y2="659" stroke="#be58c2" stroke-width="3" stroke-linecap="round"/><text class="lg" transform="translate(1276.72,665.20) scale(1.060,1)" style="letter-spacing:0.59px">Blocking</text><line x1="1374.5" y1="659" x2="1400.5" y2="659" stroke="#68b8c0" stroke-width="3" stroke-linecap="round"/><text class="lg" transform="translate(1406.71,665.20) scale(1.060,1)" style="letter-spacing:0.52px">Timed Waiting</text><line x1="1563.5" y1="659" x2="1589.0" y2="659" stroke="#c08484" stroke-width="3" stroke-linecap="round"/><text class="lg" transform="translate(1594.92,665.20) scale(1.060,1)" style="letter-spacing:0.75px">Deadlocked</text>
<text class="ttl" transform="translate(1358,75.1) scale(1,1.09)" text-anchor="middle">THREAD DETAILS</text>
<text class="ax" transform="translate(1370.81,622.30) scale(1.060,1)" style="letter-spacing:0.27px">Time</text>
<text class="ax" transform="translate(586.8,330.4) rotate(-90)" text-anchor="middle" style="letter-spacing:1.1px">Threads</text>
</g>
</svg>
<div class="btn"><svg width="30" height="20" viewBox="0 0 30 20"><defs><filter id="ib" filterUnits="userSpaceOnUse" x="0" y="0" width="30" height="20" color-interpolation-filters="sRGB"><feConvolveMatrix order="3" kernelMatrix="1 2 1 2 4 2 1 2 1" divisor="16" edgeMode="none" preserveAlpha="false"/></filter></defs><g fill="none" stroke-linecap="round" filter="url(#ib)"><path d="M2.85 1.2 V16.1" stroke="#4a70b4" stroke-width="2.1" stroke-linecap="butt"/><path d="M1.8 16.15 H27.3" stroke="#4a70b4" stroke-width="1.3" stroke-linecap="butt"/><path d="M6.2 14.3 C10 14.2,14 11,17.8 11 S23 13,24.7 14.6" stroke="#6a9858" stroke-width="1.35"/><path d="M5.8 10.2 C8 3.5,14 2.2,17 2.8 S25 5,26.4 9.6" stroke="#e05a5a" stroke-width="1.4"/><path d="M5.3 2.6 C8 6,11 10,13.5 9.5 S19 5.5,21.7 5.2 S26 6,27.3 6" stroke="#4a70b4" stroke-width="1.4"/></g></svg></div>
<div class="st" style="left:258.8px"><div class="sl">Thread Count</div><div class="sv">126</div></div>
<div class="st" style="left:623.3px"><div class="sl">Running</div><div class="sv">19</div></div>
<div class="st" style="left:987.8px"><div class="sl">Waiting</div><div class="sv">82</div></div>
<div class="st" style="left:1352.3px"><div class="sl">Blocking</div><div class="sv">0</div></div>
<div class="st" style="left:1716.8px"><div class="sl">Timed Waiting</div><div class="sv">25</div></div>
<div class="st" style="left:2081.3px"><div class="sl">Deadlocked</div><div class="sv">0</div></div>

</body></html>
